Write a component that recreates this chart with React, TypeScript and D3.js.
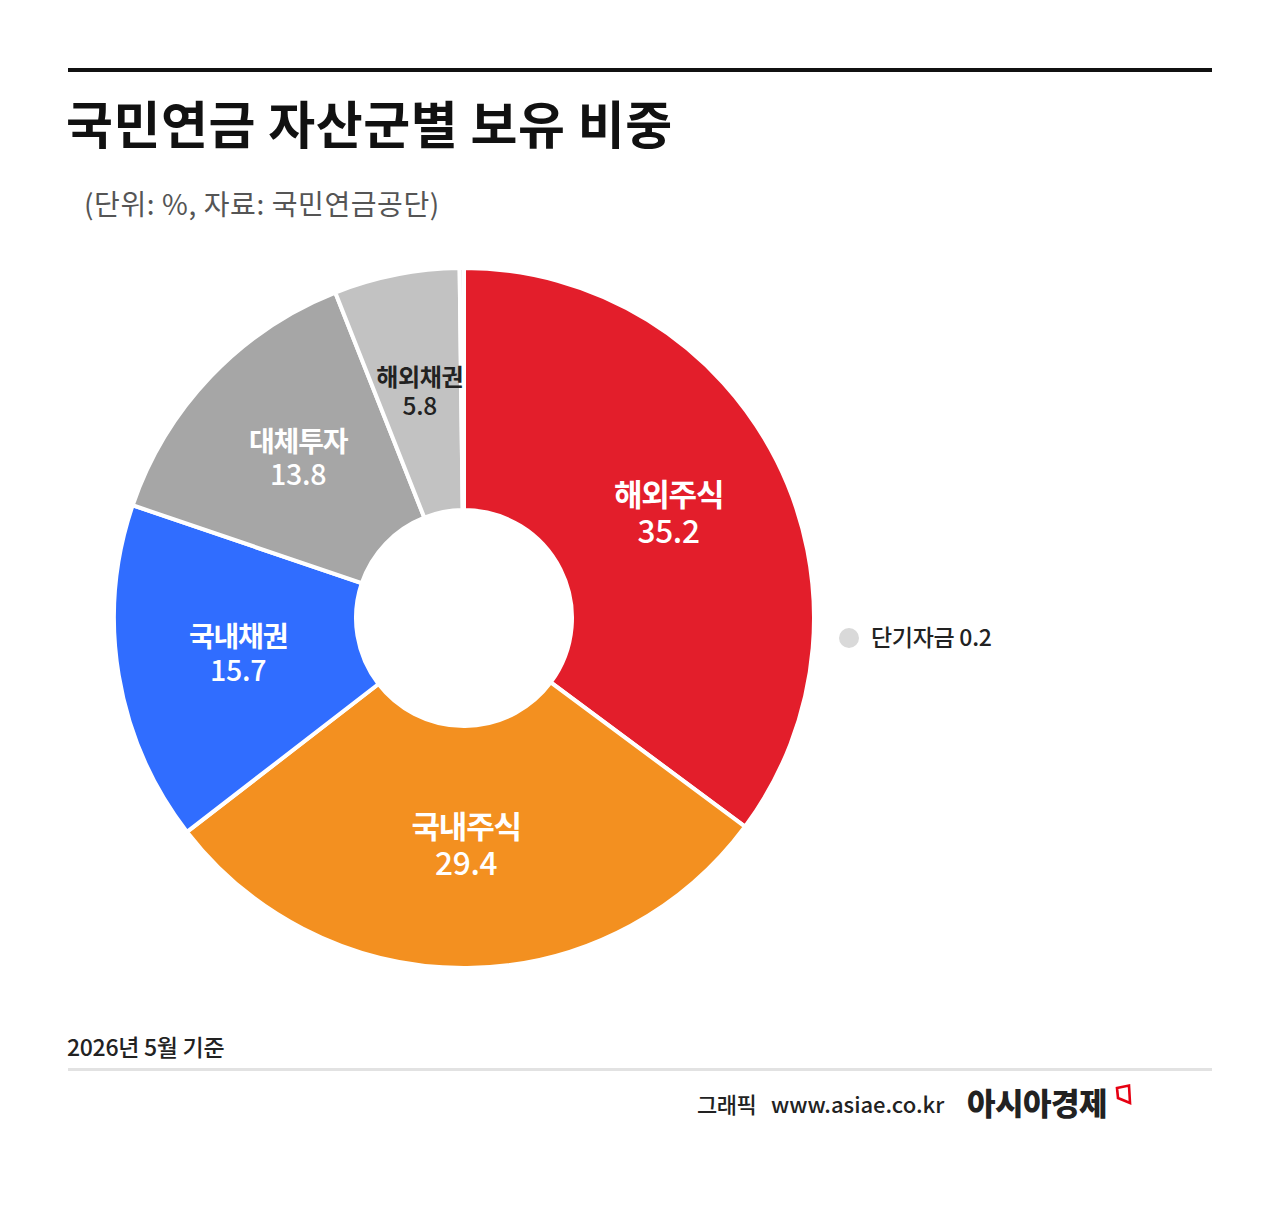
import React, { useEffect, useRef } from 'react';
import * as d3 from 'd3';

// asset classes, clockwise from 12 o'clock
const assetNames = ['해외주식', '국내주식', '국내채권', '대체투자', '해외채권', '단기자금'];
const assetShares = [35.2, 29.4, 15.7, 13.8, 5.8, 0.2];
const assetColors = ['#e31e2b', '#f39020', '#306dff', '#a6a6a6', '#c2c2c2', '#d9d9d9'];
const labelColors = ['#fff', '#fff', '#fff', '#fff', '#222', '#222'];
const labelSizes = [31, 31, 28, 28, 24, 0];

const title = '국민연금 자산군별 보유 비중';
const subtitle = '(단위: %, 자료: 국민연금공단)';
const baseNote = '2026년 5월 기준';

const FONT = '"Noto Sans CJK KR", "Noto Sans", sans-serif';

const App: React.FC = () => {
  const ref = useRef<SVGSVGElement>(null);

  useEffect(() => {
    document.body.style.margin = '0';
    const svg = d3.select(ref.current);
    svg.selectAll('*').remove();

    const width = 1280;
    const height = 1205;
    const cx = 464;
    const cy = 618;
    const outerR = 350;
    const innerR = 108;

    svg.append('rect').attr('width', width).attr('height', height).attr('fill', '#fff');

    // header
    svg.append('rect').attr('x', 68).attr('y', 68).attr('width', 1144).attr('height', 4).attr('fill', '#111');
    svg.append('text')
      .attr('x', 66).attr('y', 144)
      .attr('font-family', FONT).attr('font-weight', 700).attr('font-size', 51)
      .attr('letter-spacing', 0.6).attr('fill', '#111')
      .text(title);
    svg.append('text')
      .attr('x', 84).attr('y', 215)
      .attr('font-family', FONT).attr('font-size', 28)
      .attr('letter-spacing', 0.6).attr('fill', '#555')
      .text(subtitle);

    // donut
    const data = assetNames.map((name, i) => ({ name, value: assetShares[i], i }));
    const pie = d3.pie<typeof data[0]>().sort(null).value(d => d.value);
    const arcs = pie(data);
    const arc = d3.arc<d3.PieArcDatum<typeof data[0]>>().innerRadius(innerR).outerRadius(outerR);

    const g = svg.append('g').attr('transform', `translate(${cx},${cy})`);
    g.selectAll('path')
      .data(arcs)
      .enter()
      .append('path')
      .attr('d', arc)
      .attr('fill', d => assetColors[d.data.i])
      .attr('stroke', '#fff')
      .attr('stroke-width', 4)
      .attr('stroke-linejoin', 'miter');

    const labels = g.selectAll('g.lbl')
      .data(arcs.filter(d => labelSizes[d.data.i] > 0))
      .enter()
      .append('g')
      .attr('class', 'lbl')
      .attr('transform', d => `translate(${arc.centroid(d)})`);
    labels.append('text')
      .attr('text-anchor', 'middle')
      .attr('y', d => -labelSizes[d.data.i] * 0.3)
      .attr('font-family', FONT).attr('font-weight', 700)
      .attr('font-size', d => labelSizes[d.data.i])
      .attr('letter-spacing', d => (labelSizes[d.data.i] < 26 ? -0.4 : -1.2))
      .attr('fill', d => labelColors[d.data.i])
      .text(d => d.data.name);
    labels.append('text')
      .attr('text-anchor', 'middle')
      .attr('y', d => labelSizes[d.data.i] * 0.9)
      .attr('font-family', FONT).attr('font-weight', 500)
      .attr('font-size', d => labelSizes[d.data.i] * 1.02)
      .attr('letter-spacing', -0.3)
      .attr('fill', d => labelColors[d.data.i])
      .text(d => d.data.value.toFixed(1));

    // legend for the tiny slice
    const small = data[5];
    svg.append('circle').attr('cx', 849).attr('cy', 638).attr('r', 10).attr('fill', assetColors[small.i]);
    svg.append('text')
      .attr('x', 871).attr('y', 646)
      .attr('font-family', FONT).attr('font-weight', 500).attr('font-size', 23)
      .attr('letter-spacing', -0.3).attr('fill', '#222')
      .text(`${small.name} ${small.value.toFixed(1)}`);

    // footer
    svg.append('text')
      .attr('x', 67).attr('y', 1056)
      .attr('font-family', FONT).attr('font-weight', 500).attr('font-size', 23)
      .attr('letter-spacing', -0.3).attr('fill', '#222')
      .text(baseNote);
    svg.append('rect').attr('x', 68).attr('y', 1068).attr('width', 1144).attr('height', 3).attr('fill', '#e2e2e2');

    svg.append('text')
      .attr('x', 697).attr('y', 1113)
      .attr('font-family', FONT).attr('font-weight', 500).attr('font-size', 22)
      .attr('letter-spacing', -0.5).attr('fill', '#222')
      .text('그래픽');
    svg.append('text')
      .attr('x', 771).attr('y', 1113)
      .attr('font-family', FONT).attr('font-weight', 500).attr('font-size', 22)
      .attr('letter-spacing', 0).attr('fill', '#222')
      .text('www.asiae.co.kr');
    svg.append('text')
      .attr('x', 967).attr('y', 1115)
      .attr('font-family', FONT).attr('font-weight', 900).attr('font-size', 31)
      .attr('letter-spacing', -0.5).attr('fill', '#222')
      .text('아시아경제');
    svg.append('path')
      .attr('d', 'M1117,1088 L1129,1085.5 L1130,1103 L1118,1098 Z')
      .attr('fill', 'none').attr('stroke', '#e60012').attr('stroke-width', 2.6);
  }, []);

  return (
    <div style={{ position: 'absolute', left: 0, top: 0 }}>
      <svg ref={ref} width={1280} height={1205} />
    </div>
  );
};

export default App;
